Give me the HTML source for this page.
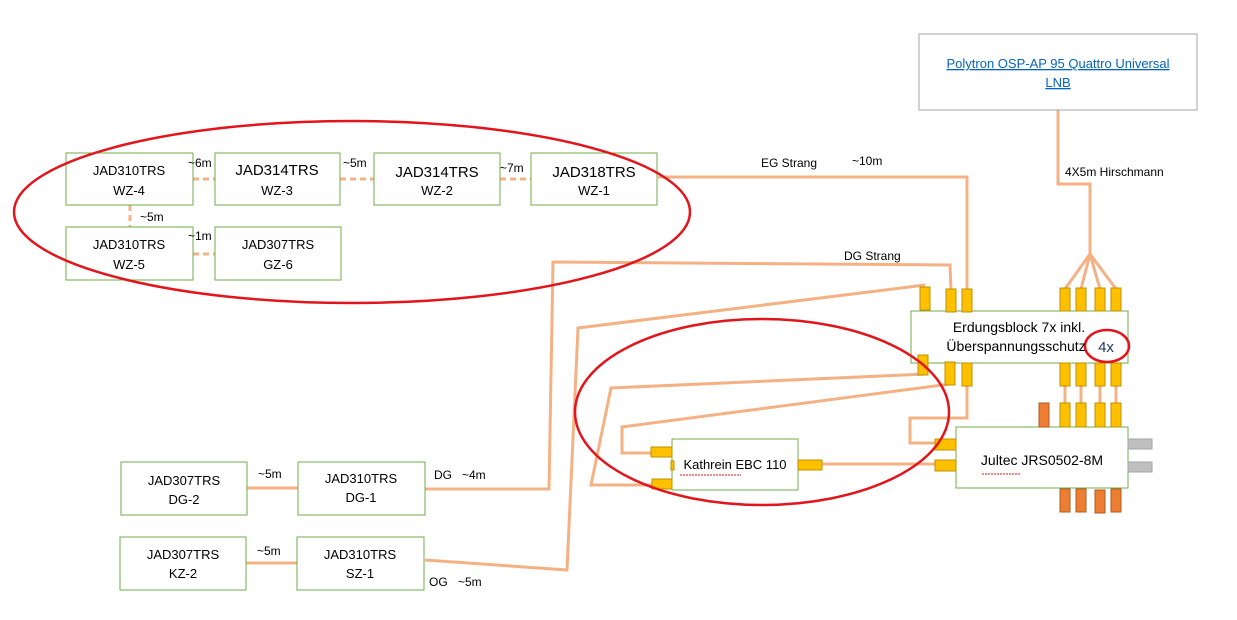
<!DOCTYPE html>
<html><head><meta charset="utf-8"><style>
body{margin:0;background:#fff;}
svg{display:block;font-family:"Liberation Sans",Calibri,sans-serif;}
</style></head><body>
<svg width="1237" height="620" viewBox="0 0 1237 620">
<g fill="none" stroke="#F4B183" stroke-width="3">
<polyline points="658,177 967,177 967,290"/>
<polyline points="425,489 549,489 553,262 950,265 951,290"/>
<polyline points="425,560 567,570 578,328 925,285"/>
<polyline points="651,453 622,453 622,427 950,384"/>
<polyline points="655,485 591,485 611,388 927,374"/>
<line x1="822" y1="464" x2="935" y2="464"/>
<polyline points="967,385 967,418 910,418 910,443 935,443"/>
<line x1="1065" y1="386" x2="1065" y2="403"/><line x1="1081" y1="386" x2="1081" y2="403"/>
<line x1="1100" y1="386" x2="1100" y2="403"/><line x1="1116" y1="386" x2="1116" y2="403"/>
<polyline points="1058,110 1058,184 1090,184 1090,254"/>
<line x1="1090" y1="254" x2="1065" y2="289"/><line x1="1090" y1="254" x2="1081" y2="289"/>
<line x1="1090" y1="254" x2="1100" y2="289"/><line x1="1090" y1="254" x2="1116" y2="289"/>
</g>
<g fill="none" stroke="#F4B183" stroke-width="3" stroke-dasharray="6,4">
<line x1="193" y1="179" x2="215" y2="179"/><line x1="340" y1="179" x2="374" y2="179"/>
<line x1="500" y1="179" x2="531" y2="179"/><line x1="130" y1="205" x2="130" y2="227"/>
<line x1="193" y1="254" x2="215" y2="254"/>
</g>
<g stroke="#F4B183" stroke-width="3"><line x1="247" y1="488" x2="298" y2="488"/><line x1="246" y1="563" x2="297" y2="563"/></g>
<g fill="#fff" stroke="#70AD47" stroke-width="1">
<rect x="66" y="153" width="127" height="52"/><rect x="215" y="153" width="125" height="52"/>
<rect x="374" y="153" width="126" height="52"/><rect x="531" y="153" width="126" height="52"/>
<rect x="66" y="227" width="127" height="53"/><rect x="215" y="227" width="126" height="53"/>
<rect x="121" y="462" width="126" height="53"/><rect x="298" y="462" width="127" height="53"/>
<rect x="120" y="537" width="126" height="53"/><rect x="297" y="537" width="127" height="53"/>
<rect x="911" y="311" width="217" height="52"/><rect x="956" y="427" width="172" height="61"/>
<rect x="672" y="439" width="126" height="51"/>
</g>
<rect x="919" y="34" width="278" height="76" fill="#fff" stroke="#A5A5A5"/>
<g fill="#FFC000" stroke="#BF9000" stroke-width="1">
<rect x="920" y="287" width="10" height="23"/><rect x="946" y="289" width="10" height="23"/><rect x="962" y="289" width="10" height="23"/>
<rect x="1060" y="288" width="10" height="23"/><rect x="1076" y="288" width="10" height="23"/><rect x="1095" y="288" width="10" height="23"/><rect x="1111" y="288" width="10" height="23"/>
<rect x="918" y="355" width="10" height="20"/><rect x="945" y="362" width="10" height="23"/><rect x="962" y="363" width="10" height="23"/>
<rect x="1060" y="363" width="10" height="23"/><rect x="1076" y="363" width="10" height="23"/><rect x="1095" y="363" width="10" height="23"/><rect x="1111" y="363" width="10" height="23"/>
<rect x="1060" y="403" width="10" height="24"/><rect x="1076" y="403" width="10" height="24"/><rect x="1095" y="403" width="10" height="24"/><rect x="1111" y="403" width="10" height="24"/>
<rect x="935" y="439" width="21" height="11"/><rect x="935" y="460" width="21" height="11"/>
<rect x="651" y="447" width="21" height="10"/><rect x="652" y="479" width="20" height="10"/><rect x="671" y="461" width="3" height="9"/>
<rect x="798" y="460" width="24" height="10"/>
</g>
<g fill="#ED7D31" stroke="#AE5A21" stroke-width="1">
<rect x="1039" y="403" width="10" height="24"/>
<rect x="1060" y="489" width="10" height="23"/><rect x="1076" y="489" width="10" height="23"/><rect x="1095" y="490" width="10" height="23"/><rect x="1111" y="489" width="10" height="23"/>
</g>
<g fill="#BFBFBF" stroke="#A5A5A5"><rect x="1128" y="439" width="24" height="10"/><rect x="1128" y="462" width="24" height="10"/></g>
<g fill="none" stroke="#E3141B" stroke-width="2.5">
<ellipse cx="352" cy="212" rx="338" ry="91"/>
<ellipse cx="762" cy="412" rx="187" ry="93"/>
<ellipse cx="1107" cy="346" rx="22" ry="16"/>
</g>
<g font-size="13" fill="#000" text-anchor="middle">
<text x="129" y="175">JAD310TRS</text><text x="129" y="195">WZ-4</text>
<text x="277" y="175" font-size="15">JAD314TRS</text><text x="277" y="195">WZ-3</text>
<text x="437" y="177" font-size="15">JAD314TRS</text><text x="437" y="195">WZ-2</text>
<text x="594" y="177" font-size="15">JAD318TRS</text><text x="594" y="195">WZ-1</text>
<text x="129" y="249">JAD310TRS</text><text x="129" y="269">WZ-5</text>
<text x="278" y="249">JAD307TRS</text><text x="278" y="269">GZ-6</text>
<text x="184" y="485">JAD307TRS</text><text x="184" y="504">DG-2</text>
<text x="361" y="483">JAD310TRS</text><text x="361" y="502">DG-1</text>
<text x="183" y="559">JAD307TRS</text><text x="183" y="578">KZ-2</text>
<text x="360" y="559">JAD310TRS</text><text x="360" y="578">SZ-1</text>
<text x="1019" y="332" font-size="14">Erdungsblock 7x inkl.</text>
<text x="1016" y="351" font-size="14">Überspannungsschutz</text>
<text x="1106" y="352" font-size="15" fill="#1F3864">4x</text>
<text x="1042" y="465" font-size="14">Jultec JRS0502-8M</text>
<text x="735" y="469">Kathrein EBC 110</text>
<text x="1058" y="68" fill="#0563C1" text-decoration="underline">Polytron OSP-AP 95 Quattro Universal</text>
<text x="1058" y="87" fill="#0563C1" text-decoration="underline">LNB</text>
</g>
<g stroke="#E3141B" stroke-width="1" fill="none" stroke-dasharray="2,1">
<line x1="680" y1="475" x2="741" y2="475"/><line x1="982" y1="474" x2="1021" y2="474"/>
</g>
<g font-size="12" fill="#000">
<text x="188" y="167">~6m</text><text x="343" y="167">~5m</text><text x="500" y="172">~7m</text>
<text x="140" y="221">~5m</text><text x="188" y="240">~1m</text>
<text x="761" y="167">EG Strang</text><text x="852" y="165">~10m</text>
<text x="844" y="260">DG Strang</text><text x="1065" y="176">4X5m Hirschmann</text>
<text x="434" y="479">DG</text><text x="462" y="479">~4m</text>
<text x="258" y="478">~5m</text><text x="257" y="555">~5m</text>
<text x="429" y="586">OG</text><text x="458" y="586">~5m</text>
</g>
</svg>
</body></html>
